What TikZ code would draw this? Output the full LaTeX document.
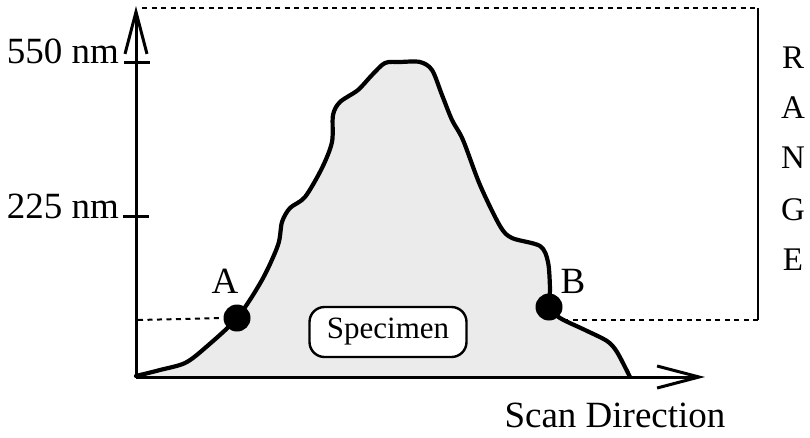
\documentclass[tikz,border=0pt]{standalone}
\usepackage{fontspec}
\setmainfont{Liberation Serif}
\usetikzlibrary{arrows.meta}
\begin{document}
\begin{tikzpicture}[x=1pt,y=-1pt,
  axis/.style={line width=3pt,-{Straight Barb[length=42pt,width=22pt,line width=3pt]}},
  dashline/.style={line width=2pt,dash pattern=on 5pt off 4.5pt},
  profile/.style={line width=4.2pt,line join=round,line cap=round},
  dotnode/.style={circle,fill=black,minimum size=27pt,inner sep=0pt},
  lbl/.style={font=\fontsize{37}{42}\selectfont,inner sep=0pt},
  rng/.style={font=\fontsize{33}{40}\selectfont,inner sep=0pt,anchor=base},
  tick/.style={line width=3pt},
  specbox/.style={draw,line width=2.4pt,rounded corners=15pt,fill=white,minimum width=157pt,minimum height=50pt,font=\fontsize{31}{36}\selectfont,inner sep=0pt}
]
\useasboundingbox (0,0) rectangle (810,437);
% specimen fill
\fill[black!8] plot[smooth,tension=0.5] coordinates {(136,376) (160,370) (185,363) (205,348) (237,318) (262,280) (278,245) (282,222) (290,208) (305,197) (322,168) (332,142) (333,115) (340,102) (358,90) (372,75) (385,63) (400,62) (420,62) (432,70) (442,95) (452,120) (463,140) (480,185) (500,226) (512,238) (540,246) (548,262) (550,290) (549,307) (560,318) (585,330) (607,341) (617,352) (630,377)} -- cycle;
\draw[profile] plot[smooth,tension=0.5] coordinates {(136,376) (160,370) (185,363) (205,348) (237,318) (262,280) (278,245) (282,222) (290,208) (305,197) (322,168) (332,142) (333,115) (340,102) (358,90) (372,75) (385,63) (400,62) (420,62) (432,70) (442,95) (452,120) (463,140) (480,185) (500,226) (512,238) (540,246) (548,262) (550,290) (549,307) (560,318) (585,330) (607,341) (617,352) (630,377)};
% coordinates
\coordinate (O) at (136,377);
\coordinate (ytip) at (136,6);
\coordinate (xtip) at (705,377);
\coordinate (tl) at (142,8);
\coordinate (tr) at (758,8);
\coordinate (br) at (758,320);
\coordinate (bl) at (138,320);
\coordinate (bm) at (560,320);
\coordinate (t550l) at (124,62);
\coordinate (t550r) at (150,62);
\coordinate (t225l) at (123,216);
\coordinate (t225r) at (149,216);
% range box
\draw[dashline] (tl) -- (tr);
\draw[line width=2.4pt] (tr) -- (br);
\draw[dashline] (br) -- (bm);
% axes
\draw[axis] (O) -- (ytip);
\draw[axis] (O) -- (xtip);
\draw[tick] (t550l) -- (t550r);
\draw[tick] (t225l) -- (t225r);
% dots
\node[dotnode] (A) at (237,318) {};
\node[dotnode] (B) at (549,307) {};
\draw[dashline] (bl) -- (A.west);
% labels
\node[lbl,anchor=base east] (l550) at (119,63) {550 nm};
\node[lbl,anchor=base east] (l225) at (119,218) {225 nm};
\node[lbl,anchor=base] (la) at (225,293) {A};
\node[lbl,anchor=base] (lb) at (573,293) {B};
\node[lbl,anchor=base] (scan) at (615,427) {Scan Direction};
\node[specbox] (spec) at (388,332) {Specimen};
\node[rng] (r1) at (793,68) {R};
\node[rng] (r2) at (793,118) {A};
\node[rng] (r3) at (793,168) {N};
\node[rng] (r4) at (793,220) {G};
\node[rng] (r5) at (793,270) {E};
\end{tikzpicture}
\end{document}
